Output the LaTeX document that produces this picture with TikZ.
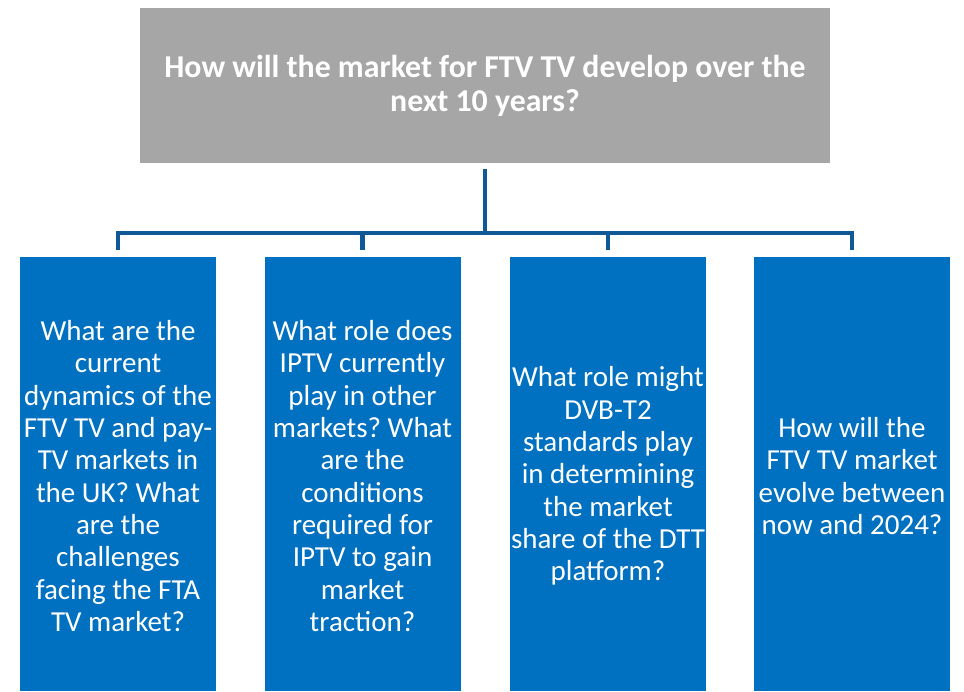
\documentclass[tikz,border=0pt]{standalone}
\usepackage{fontspec}
\setmainfont{Carlito}
\frenchspacing
\definecolor{titlegray}{RGB}{166,166,166}
\definecolor{boxblue}{RGB}{0,112,192}
\definecolor{connblue}{RGB}{16,88,150}
\begin{document}
\begin{tikzpicture}[x=1pt,y=-1pt,
  titlebox/.style={fill=titlegray,minimum width=690pt,minimum height=155pt,inner sep=0pt,
    text=white,align=center,font={\bfseries\frenchspacing\fontsize{31.8}{34}\selectfont}},
  qbox/.style={fill=boxblue,minimum width=196pt,minimum height=434pt,inner sep=0pt},
  qtext/.style={text=white,align=center,inner sep=0pt,font={\frenchspacing\fontsize{29}{32.3}\selectfont}},
  conn/.style={draw=connblue,line width=4.3pt,line join=miter}]
\useasboundingbox (0,0) rectangle (964,691);
\node[titlebox] (top) at (485,85.5) {How will the market for FTV TV develop over the\\next 10 years?};
\node[qbox] (b1) at (118,474) {};
\node[qbox] (b2) at (362.5,474) {};
\node[qbox] (b3) at (608,474) {};
\node[qbox] (b4) at (852,474) {};
\node[qtext] (t1) at (118,476) {What are the\\current\\dynamics of the\\FTV TV and pay-\\TV markets in\\the UK? What\\are the\\challenges\\facing the FTA\\TV market?};
\node[qtext] (t2) at (362.5,476) {What role does\\IPTV currently\\play in other\\markets? What\\are the\\conditions\\required for\\IPTV to gain\\market\\traction?};
\node[qtext] (t3) at (608,476) {What role might\\DVB-T2\\standards play\\in determining\\the market\\share of the DTT\\platform?};
\node[qtext] (t4) at (852,476) {How will the\\FTV TV market\\evolve between\\now and 2024?};
\coordinate (bus) at (485,233);
\draw[conn] ([yshift=-6pt]top.south) -- (bus);
\draw[conn] ([yshift=7pt]b1.north) -- ([yshift=24pt]b1.north) -- ([yshift=24pt]b4.north) -- ([yshift=7pt]b4.north);
\draw[conn] ([yshift=7pt]b2.north) -- ([yshift=24pt]b2.north);
\draw[conn] ([yshift=7pt]b3.north) -- ([yshift=24pt]b3.north);
\end{tikzpicture}
\end{document}
